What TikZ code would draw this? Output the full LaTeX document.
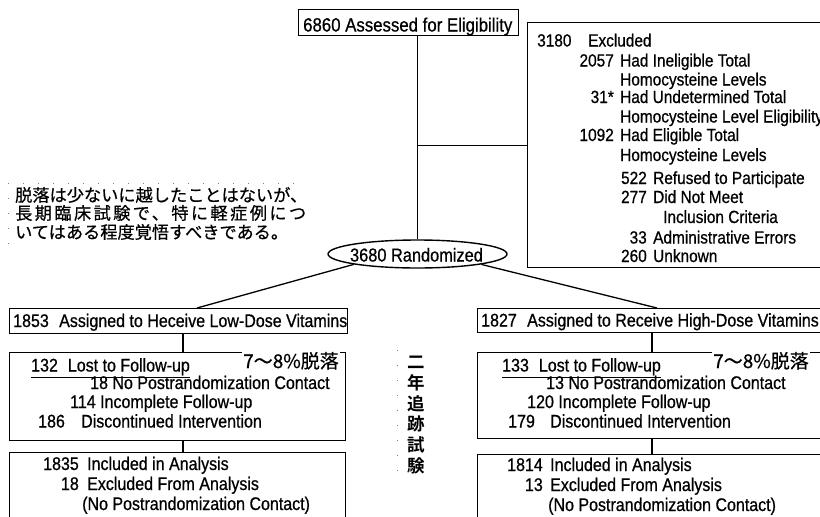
\documentclass[tikz,border=0pt]{standalone}
\usepackage{fontspec}
\usetikzlibrary{shapes.geometric}
\setmainfont{Liberation Sans}[FakeStretch=0.875, FakeBold=0.7]
\newfontfamily\jp{Noto Sans CJK JP}[FakeBold=0.6]
\newfontfamily\jpbold{Noto Sans CJK JP Bold}
\begin{document}
\begin{tikzpicture}[x=1pt,y=-1pt,
  box/.style={draw, line width=1.4pt, inner sep=0, anchor=north west},
  conn/.style={line width=1.3pt},
  tx/.style={inner sep=0, anchor=base west, font=\fontsize{18.3}{20}\selectfont},
  nx/.style={inner sep=0, anchor=base east, font=\fontsize{18.3}{20}\selectfont},
  ex/.style={inner sep=0, anchor=base west, font=\fontsize{17.6}{20}\selectfont},
  enx/.style={inner sep=0, anchor=base east, font=\fontsize{17.6}{20}\selectfont},
  jpnote/.style={inner sep=0, anchor=base west, font=\jp\fontsize{17.2}{18}\selectfont},
  pct/.style={inner sep=1pt, fill=white, anchor=base west, font=\jp\fontsize{19}{20}\selectfont},
  faint/.style={line width=0.8pt, gray, dash pattern=on 1pt off 14pt}]
\useasboundingbox (0,0) rectangle (820,517);
\clip (0,0) rectangle (820,517);

% ---------- top ----------
\node[box, minimum width=220, minimum height=26] (top) at (298,9) {};
\node[ex, font=\fontsize{19.2}{22}\selectfont] (ttop) at (303,31.5) {6860 Assessed for Eligibility};

\node[draw, ellipse, line width=1.4pt, minimum width=179, minimum height=28, inner sep=0] (rand) at (417.5,254) {};
\node[ex, anchor=base, font=\fontsize{18.7}{22}\selectfont] (trand) at (416.5,261.5) {3680 Randomized};

\node[box, minimum width=310, minimum height=245] (excl) at (527,22) {};

\draw[conn] (top.south -| rand.north) -- (rand.north);
\draw[conn] (excl.west -| rand.north) -- (excl.west);

% excluded text
\node[ex] (e1a) at (537,46.5) {3180};
\node[ex] (e1b) at (588,46.5) {Excluded};
\node[enx] (e2a) at (614,66.5) {2057};
\node[ex] (e2b) at (620,66.5) {Had Ineligible Total};
\node[ex] (e3) at (620,85.5) {Homocysteine Levels};
\node[enx] (e4a) at (614,103) {31*};
\node[ex] (e4b) at (620,103) {Had Undetermined Total};
\node[ex] (e5) at (620,122.5) {Homocysteine Level Eligibility};
\node[enx] (e6a) at (614,141) {1092};
\node[ex] (e6b) at (620,141) {Had Eligible Total};
\node[ex] (e7) at (620,161) {Homocysteine Levels};
\node[enx] (e8a) at (647,184) {522};
\node[ex] (e8b) at (653,184) {Refused to Participate};
\node[enx] (e9a) at (647,203) {277};
\node[ex] (e9b) at (653,203) {Did Not Meet};
\node[ex] (e10) at (663,223) {Inclusion Criteria};
\node[enx] (e11a) at (647,243.5) {33};
\node[ex] (e11b) at (653,243.5) {Administrative Errors};
\node[enx] (e12a) at (647,262) {260};
\node[ex] (e12b) at (653,262) {Unknown};

% ---------- note ----------
\node[jpnote] (n1) at (15,201.5) {脱落は少ないに越したことはないが、};
\node[jpnote, font=\jp\fontsize{17.2}{18}\selectfont\addfontfeatures{LetterSpace=14}] (n2) at (15,219.5) {長期臨床試験で、特に軽症例につ};
\node[jpnote] (n3) at (15,238.5) {いてはある程度覚悟すべきである。};
\draw[faint] (8,183) -- (305,183);
\draw[faint] (8,183) -- (8,250);

% ---------- left column ----------
\node[box, minimum width=338, minimum height=25] (lowA) at (9,308) {};
\node[tx] (la1) at (13,327) {1853};
\node[tx] (la2) at (59,327) {Assigned to Heceive Low-Dose Vitamins};

\node[box, minimum width=336, minimum height=88] (lowB) at (9,352) {};
\node[pct] (lp) at (242,368) {7～8\%脱落};
\node[tx] (lb1) at (31,371.5) {\underline{132\hspace{10pt}Lost to Follow-up}};
\node[tx] (lb2) at (90,389) {18 No Postrandomization Contact};
\node[tx] (lb3) at (70,408) {114 Incomplete Follow-up};
\node[tx] (lb4a) at (38,427.5) {186};
\node[tx] (lb4b) at (81,427.5) {Discontinued Intervention};

\node[box, minimum width=336, minimum height=80] (lowC) at (9,452) {};
\node[nx] (lc1a) at (79,470) {1835};
\node[tx] (lc1b) at (87,470) {Included in Analysis};
\node[nx] (lc2a) at (79,490) {18};
\node[tx] (lc2b) at (87,490) {Excluded From Analysis};
\node[tx] (lc3) at (82,510) {(No Postrandomization Contact)};

\draw[conn] (rand.south west) -- ([xshift=188]lowA.north west);
\draw[conn] ([xshift=174]lowA.south west) -- ([xshift=174]lowB.north west);
\draw[conn] ([xshift=174]lowB.south west) -- ([xshift=174]lowC.north west);

% ---------- right column ----------
\node[box, minimum width=360, minimum height=24] (hiA) at (477,308) {};
\node[tx] (ha1) at (481,326.5) {1827};
\node[tx] (ha2) at (527,326.5) {Assigned to Receive High-Dose Vitamins};

\node[box, minimum width=360, minimum height=86] (hiB) at (477,352) {};
\node[pct] (hp) at (712,368) {7～8\%脱落};
\node[tx] (hb1) at (502,371.5) {\underline{133\hspace{10pt}Lost to Follow-up}};
\node[tx] (hb2) at (546,389) {13 No Postrandomization Contact};
\node[tx] (hb3) at (527,408) {120 Incomplete Follow-up};
\node[tx] (hb4a) at (508,427.5) {179};
\node[tx] (hb4b) at (550,427.5) {Discontinued Intervention};

\node[box, minimum width=360, minimum height=80] (hiC) at (477,454) {};
\node[nx] (hc1a) at (543,471) {1814};
\node[tx] (hc1b) at (550,471) {Included in Analysis};
\node[nx] (hc2a) at (543,491) {13};
\node[tx] (hc2b) at (550,491) {Excluded From Analysis};
\node[tx] (hc3) at (548,511) {(No Postrandomization Contact)};

\draw[conn] (rand.south east) -- ([xshift=180]hiA.north west);
\draw[conn] ([xshift=175]hiA.south west) -- ([xshift=175]hiB.north west);
\draw[conn] ([xshift=175]hiB.south west) -- ([xshift=175]hiC.north west);

% ---------- vertical label ----------
\node[inner sep=0, align=center, font=\jpbold\fontsize{17.5}{20.8}\selectfont] (vert) at (416,415) {二\\年\\追\\跡\\試\\験};
\draw[faint] (397,350) -- (397,480);
\end{tikzpicture}
\end{document}
